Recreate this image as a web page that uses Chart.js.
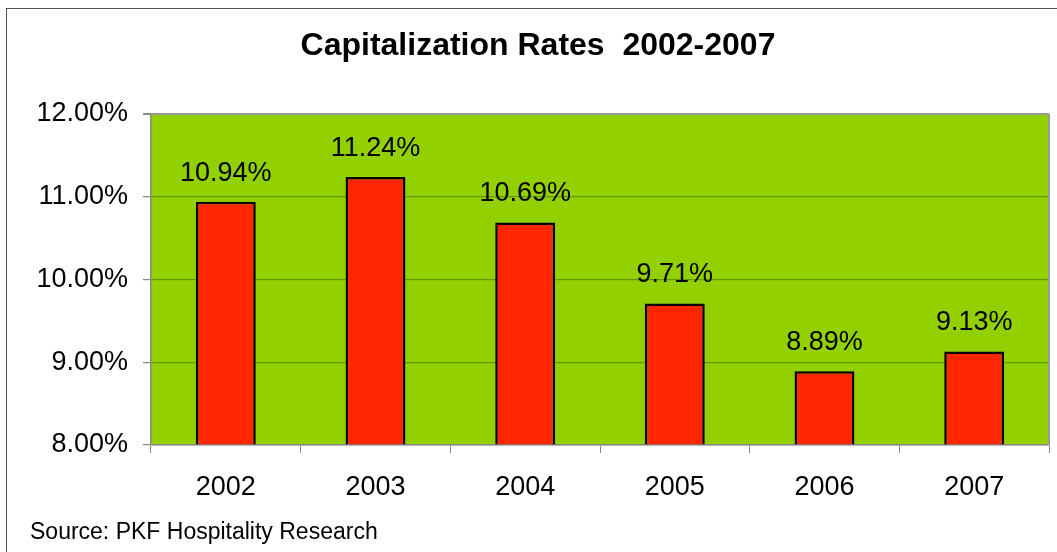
<!DOCTYPE html>
<html>
<head>
<meta charset="utf-8">
<script src="https://cdn.jsdelivr.net/npm/chart.js@4.4.1/dist/chart.umd.min.js"></script>
<style>
  html, body { margin: 0; padding: 0; background: #fff; }
  body { width: 1057px; height: 552px; position: relative; overflow: hidden; }
  #frame {
    position: absolute; left: 6px; top: 8px; width: 1200px; height: 700px;
    border: 1.5px solid #555; box-sizing: border-box;
  }
  #capChart { position: absolute; left: 0; top: 0; }
</style>
</head>
<body>
<div id="frame"></div>
<canvas id="capChart" width="1057" height="552"></canvas>
<script>
// Chart data
const years = ['2002', '2003', '2004', '2005', '2006', '2007'];
const capRates = [10.94, 11.24, 10.69, 9.71, 8.89, 9.13];
const yTicks = [8, 9, 10, 11, 12];
const chartTitle = 'Capitalization Rates  2002-2007';
const sourceNote = 'Source: PKF Hospitality Research';

const FONT = '"Liberation Sans", Arial, sans-serif';

// Green plot background plus grey right edge
const plotBackground = {
  id: 'plotBackground',
  beforeDraw(chart) {
    const { ctx, chartArea: a } = chart;
    ctx.save();
    ctx.fillStyle = '#92d000';
    ctx.fillRect(a.left, a.top, a.right - a.left, a.bottom - a.top);
    ctx.restore();
  },
  afterDatasetsDraw(chart) {
    const { ctx, chartArea: a } = chart;
    ctx.save();
    ctx.strokeStyle = '#9a9a9a';
    ctx.lineWidth = 2;
    ctx.beginPath();
    ctx.moveTo(a.right, a.top);
    ctx.lineTo(a.right, a.bottom);
    ctx.stroke();
    ctx.restore();
  }
};

// Title, value labels above each bar, source line at the bottom
const barLabels = {
  id: 'barLabels',
  afterDraw(chart) {
    const ctx = chart.ctx;
    const meta = chart.getDatasetMeta(0);
    ctx.save();
    ctx.fillStyle = '#000';

    ctx.font = 'bold 32px ' + FONT;
    ctx.textAlign = 'center';
    ctx.textBaseline = 'middle';
    ctx.fillText(chartTitle, 538, 46);

    ctx.font = '27px ' + FONT;
    ctx.textBaseline = 'alphabetic';
    meta.data.forEach((bar, i) => {
      ctx.fillText(capRates[i].toFixed(2) + '%', bar.x, bar.y - 21);
    });

    ctx.font = '23px ' + FONT;
    ctx.textAlign = 'left';
    ctx.fillText(sourceNote, 30, 539);
    ctx.restore();
  }
};

const ctx = document.getElementById('capChart').getContext('2d');
new Chart(ctx, {
  type: 'bar',
  data: {
    labels: years,
    datasets: [{
      data: capRates,
      backgroundColor: '#ff2600',
      borderColor: '#000',
      borderWidth: 2.5,
      barPercentage: 0.4,
      categoryPercentage: 1.0,
      base: 8
    }]
  },
  options: {
    responsive: false,
    animation: false,
    layout: { padding: { left: 0, right: 8, top: 114, bottom: 0 } },
    plugins: {
      legend: { display: false },
      tooltip: { enabled: false },
      title: { display: false }
    },
    scales: {
      x: {
        afterFit(scale) { scale.height = 107; },
        grid: {
          drawOnChartArea: false,
          drawTicks: true,
          tickLength: 8,
          tickColor: '#888',
          offset: true
        },
        border: { color: '#888', width: 1.5 },
        ticks: {
          color: '#000',
          font: { family: FONT, size: 27 },
          padding: 18
        }
      },
      y: {
        min: 8,
        max: 12,
        afterFit(scale) { scale.width = 151; },
        afterBuildTicks(scale) { scale.ticks = yTicks.map(v => ({ value: v })); },
        grid: {
          color: c => (c.tick && (c.tick.value === 8 || c.tick.value === 12)) ? '#9a9a9a' : '#5f9a00',
          lineWidth: c => (c.tick && c.tick.value === 12) ? 2 : 1.2,
          tickLength: 8,
          tickColor: '#888'
        },
        border: { color: '#888', width: 1.5 },
        ticks: {
          color: '#000',
          font: { family: FONT, size: 27 },
          padding: 15,
          callback: v => v.toFixed(2) + '%'
        }
      }
    }
  },
  plugins: [plotBackground, barLabels]
});
</script>
</body>
</html>
